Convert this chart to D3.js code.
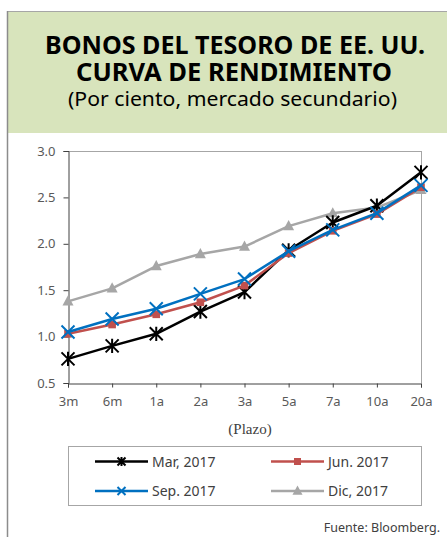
<!DOCTYPE html>
<html>
<head>
<meta charset="utf-8">
<script src="https://cdn.jsdelivr.net/npm/d3@7"></script>
<style>
  body { margin: 0; background: #fff; }
  svg { display: block; }
</style>
</head>
<body>
<div id="chart"></div>
<script>
    // plazos y rendimientos (por ciento)
    var plazos = ["3m", "6m", "1a", "2a", "3a", "5a", "7a", "10a", "20a"];
    var mar2017 = [0.76, 0.90, 1.03, 1.27, 1.48, 1.93, 2.23, 2.41, 2.77];
    var jun2017 = [1.03, 1.13, 1.24, 1.37, 1.55, 1.90, 2.14, 2.32, 2.61];
    var sep2017 = [1.05, 1.19, 1.30, 1.46, 1.62, 1.92, 2.15, 2.33, 2.63];
    var dic2017 = [1.38, 1.52, 1.76, 1.89, 1.97, 2.19, 2.33, 2.39, 2.58];
    var yTicks = [0.5, 1.0, 1.5, 2.0, 2.5, 3.0];

    var series = [
        {name: "Mar, 2017", values: mar2017, color: "#000000", marker: "star"},
        {name: "Jun. 2017", values: jun2017, color: "#c0504d", marker: "square"},
        {name: "Sep. 2017", values: sep2017, color: "#0070c0", marker: "cross"},
        {name: "Dic, 2017", values: dic2017, color: "#a6a6a6", marker: "triangle"}
    ];

    var width = 447,
        height = 537,
        sans = "'Noto Sans', 'Open Sans', sans-serif";

    var svg = d3.select("#chart").append("svg")
        .attr("width", width)
        .attr("height", height);

    svg.append("rect").attr("width", width).attr("height", height).attr("fill", "#fff");

    // encabezado
    svg.append("rect")
        .attr("x", 7).attr("y", 11)
        .attr("width", width - 7).attr("height", 122)
        .attr("fill", "#d8e4bc");
    svg.append("line")
        .attr("x1", 7).attr("x2", width).attr("y1", 11.5).attr("y2", 11.5)
        .attr("stroke", "#a6a6a6");
    svg.append("line")
        .attr("x1", 7.5).attr("x2", 7.5).attr("y1", 11).attr("y2", height)
        .attr("stroke", "#8c8c8c").attr("stroke-width", 1.5);

    var head = svg.append("g").attr("font-family", sans).attr("text-anchor", "middle");
    head.append("text").attr("x", 235).attr("y", 54)
        .attr("font-size", 25).attr("font-weight", "bold")
        .attr("textLength", 380).attr("lengthAdjust", "spacingAndGlyphs")
        .text("BONOS DEL TESORO DE EE. UU.");
    head.append("text").attr("x", 234).attr("y", 81)
        .attr("font-size", 25).attr("font-weight", "bold")
        .attr("textLength", 316).attr("lengthAdjust", "spacingAndGlyphs")
        .text("CURVA DE RENDIMIENTO");
    head.append("text").attr("x", 232.5).attr("y", 106)
        .attr("font-size", 19)
        .attr("textLength", 329).attr("lengthAdjust", "spacingAndGlyphs")
        .text("(Por ciento, mercado secundario)");

    // escalas
    var x = d3.scalePoint().domain(plazos).range([68, 421]);
    var y = d3.scaleLinear().domain([0.5, 3.0]).range([383, 151]);

    // marco del area de trazado
    svg.append("line").attr("x1", 68).attr("x2", 421.5).attr("y1", 151.5).attr("y2", 151.5)
        .attr("stroke", "#a6a6a6");
    svg.append("line").attr("x1", 421.5).attr("x2", 421.5).attr("y1", 151).attr("y2", 383)
        .attr("stroke", "#a6a6a6");

    var yAxis = svg.append("g")
        .attr("transform", "translate(68.5,0)")
        .call(d3.axisLeft(y).tickValues(yTicks).tickFormat(d3.format(".1f")).tickSize(5).tickPadding(8));
    var xAxis = svg.append("g")
        .attr("transform", "translate(0,383.5)")
        .call(d3.axisBottom(x).tickSize(4).tickPadding(9));

    [yAxis, xAxis].forEach(function(ax) {
        ax.select(".domain").attr("stroke", "#404040");
        ax.selectAll(".tick line").attr("stroke", "#404040");
        ax.selectAll("text").attr("fill", "#595959").attr("font-size", 13).attr("font-family", sans);
    });

    svg.append("text")
        .attr("x", 250).attr("y", 434)
        .attr("text-anchor", "middle")
        .attr("font-family", "'Liberation Serif', 'DejaVu Serif', serif")
        .attr("font-size", 15).attr("fill", "#404040")
        .text("(Plazo)");

    function markerPath(type, s) {
        if (type === "star") {
            return "M" + (-s) + "," + (-s) + "L" + s + "," + s +
                   "M" + (-s) + "," + s + "L" + s + "," + (-s) +
                   "M0," + (-s * 1.1) + "L0," + (s * 1.1);
        }
        if (type === "cross") {
            return "M" + (-s) + "," + (-s) + "L" + s + "," + s +
                   "M" + (-s) + "," + s + "L" + s + "," + (-s);
        }
        if (type === "square") {
            return "M" + (-s) + "," + (-s) + "h" + (2 * s) + "v" + (2 * s) + "h" + (-2 * s) + "Z";
        }
        return "M0," + (-s * 1.1) + "L" + s + "," + (s * 0.75) + "L" + (-s) + "," + (s * 0.75) + "Z";
    }

    function drawMarker(sel, type, color, big) {
        var s;
        if (type === "star" || type === "cross") {
            s = big ? 6.5 : 4;
            sel.append("path").attr("d", markerPath(type, s))
                .attr("fill", "none").attr("stroke", color).attr("stroke-width", 2);
        } else {
            s = type === "square" ? (big ? 3.8 : 3.5) : (big ? 5.5 : 5);
            sel.append("path").attr("d", markerPath(type, s)).attr("fill", color);
        }
    }

    var line = d3.line()
        .x(function(d, i) { return x(plazos[i]); })
        .y(function(d) { return y(d); });

    // orden de dibujo: Dic abajo, luego Mar, Jun, Sep
    var order = [3, 0, 1, 2];
    order.forEach(function(k) {
        var s = series[k];
        var g = svg.append("g").attr("class", "serie");
        g.append("path")
            .attr("d", line(s.values))
            .attr("fill", "none")
            .attr("stroke", s.color)
            .attr("stroke-width", 2.5)
            .attr("stroke-linejoin", "round");
        g.selectAll(".pt")
            .data(s.values)
            .enter().append("g")
            .attr("class", "pt")
            .attr("transform", function(d, i) { return "translate(" + x(plazos[i]) + "," + y(d) + ")"; })
            .each(function() { drawMarker(d3.select(this), s.marker, s.color, true); });
    });

    // leyenda
    svg.append("rect")
        .attr("x", 68.5).attr("y", 446.5).attr("width", 353).attr("height", 59)
        .attr("fill", "#fff").attr("stroke", "#a6a6a6");

    var legPos = [[95, 461.5], [271, 461.5], [95, 491], [271, 491]];
    series.forEach(function(s, i) {
        var p = legPos[i];
        var g = svg.append("g").attr("transform", "translate(" + p[0] + "," + p[1] + ")");
        g.append("line").attr("x1", 0).attr("x2", 53)
            .attr("stroke", s.color).attr("stroke-width", 2.5);
        var m = g.append("g").attr("transform", "translate(26.5,0)");
        drawMarker(m, s.marker, s.color, false);
        g.append("text").attr("x", 57).attr("y", 5)
            .attr("font-family", sans).attr("font-size", 14).attr("fill", "#404040")
            .text(s.name);
    });

    svg.append("text")
        .attr("x", 440).attr("y", 532)
        .attr("text-anchor", "end")
        .attr("font-family", sans).attr("font-size", 12.5).attr("fill", "#404040")
        .text("Fuente: Bloomberg.");
</script>
</body>
</html>
